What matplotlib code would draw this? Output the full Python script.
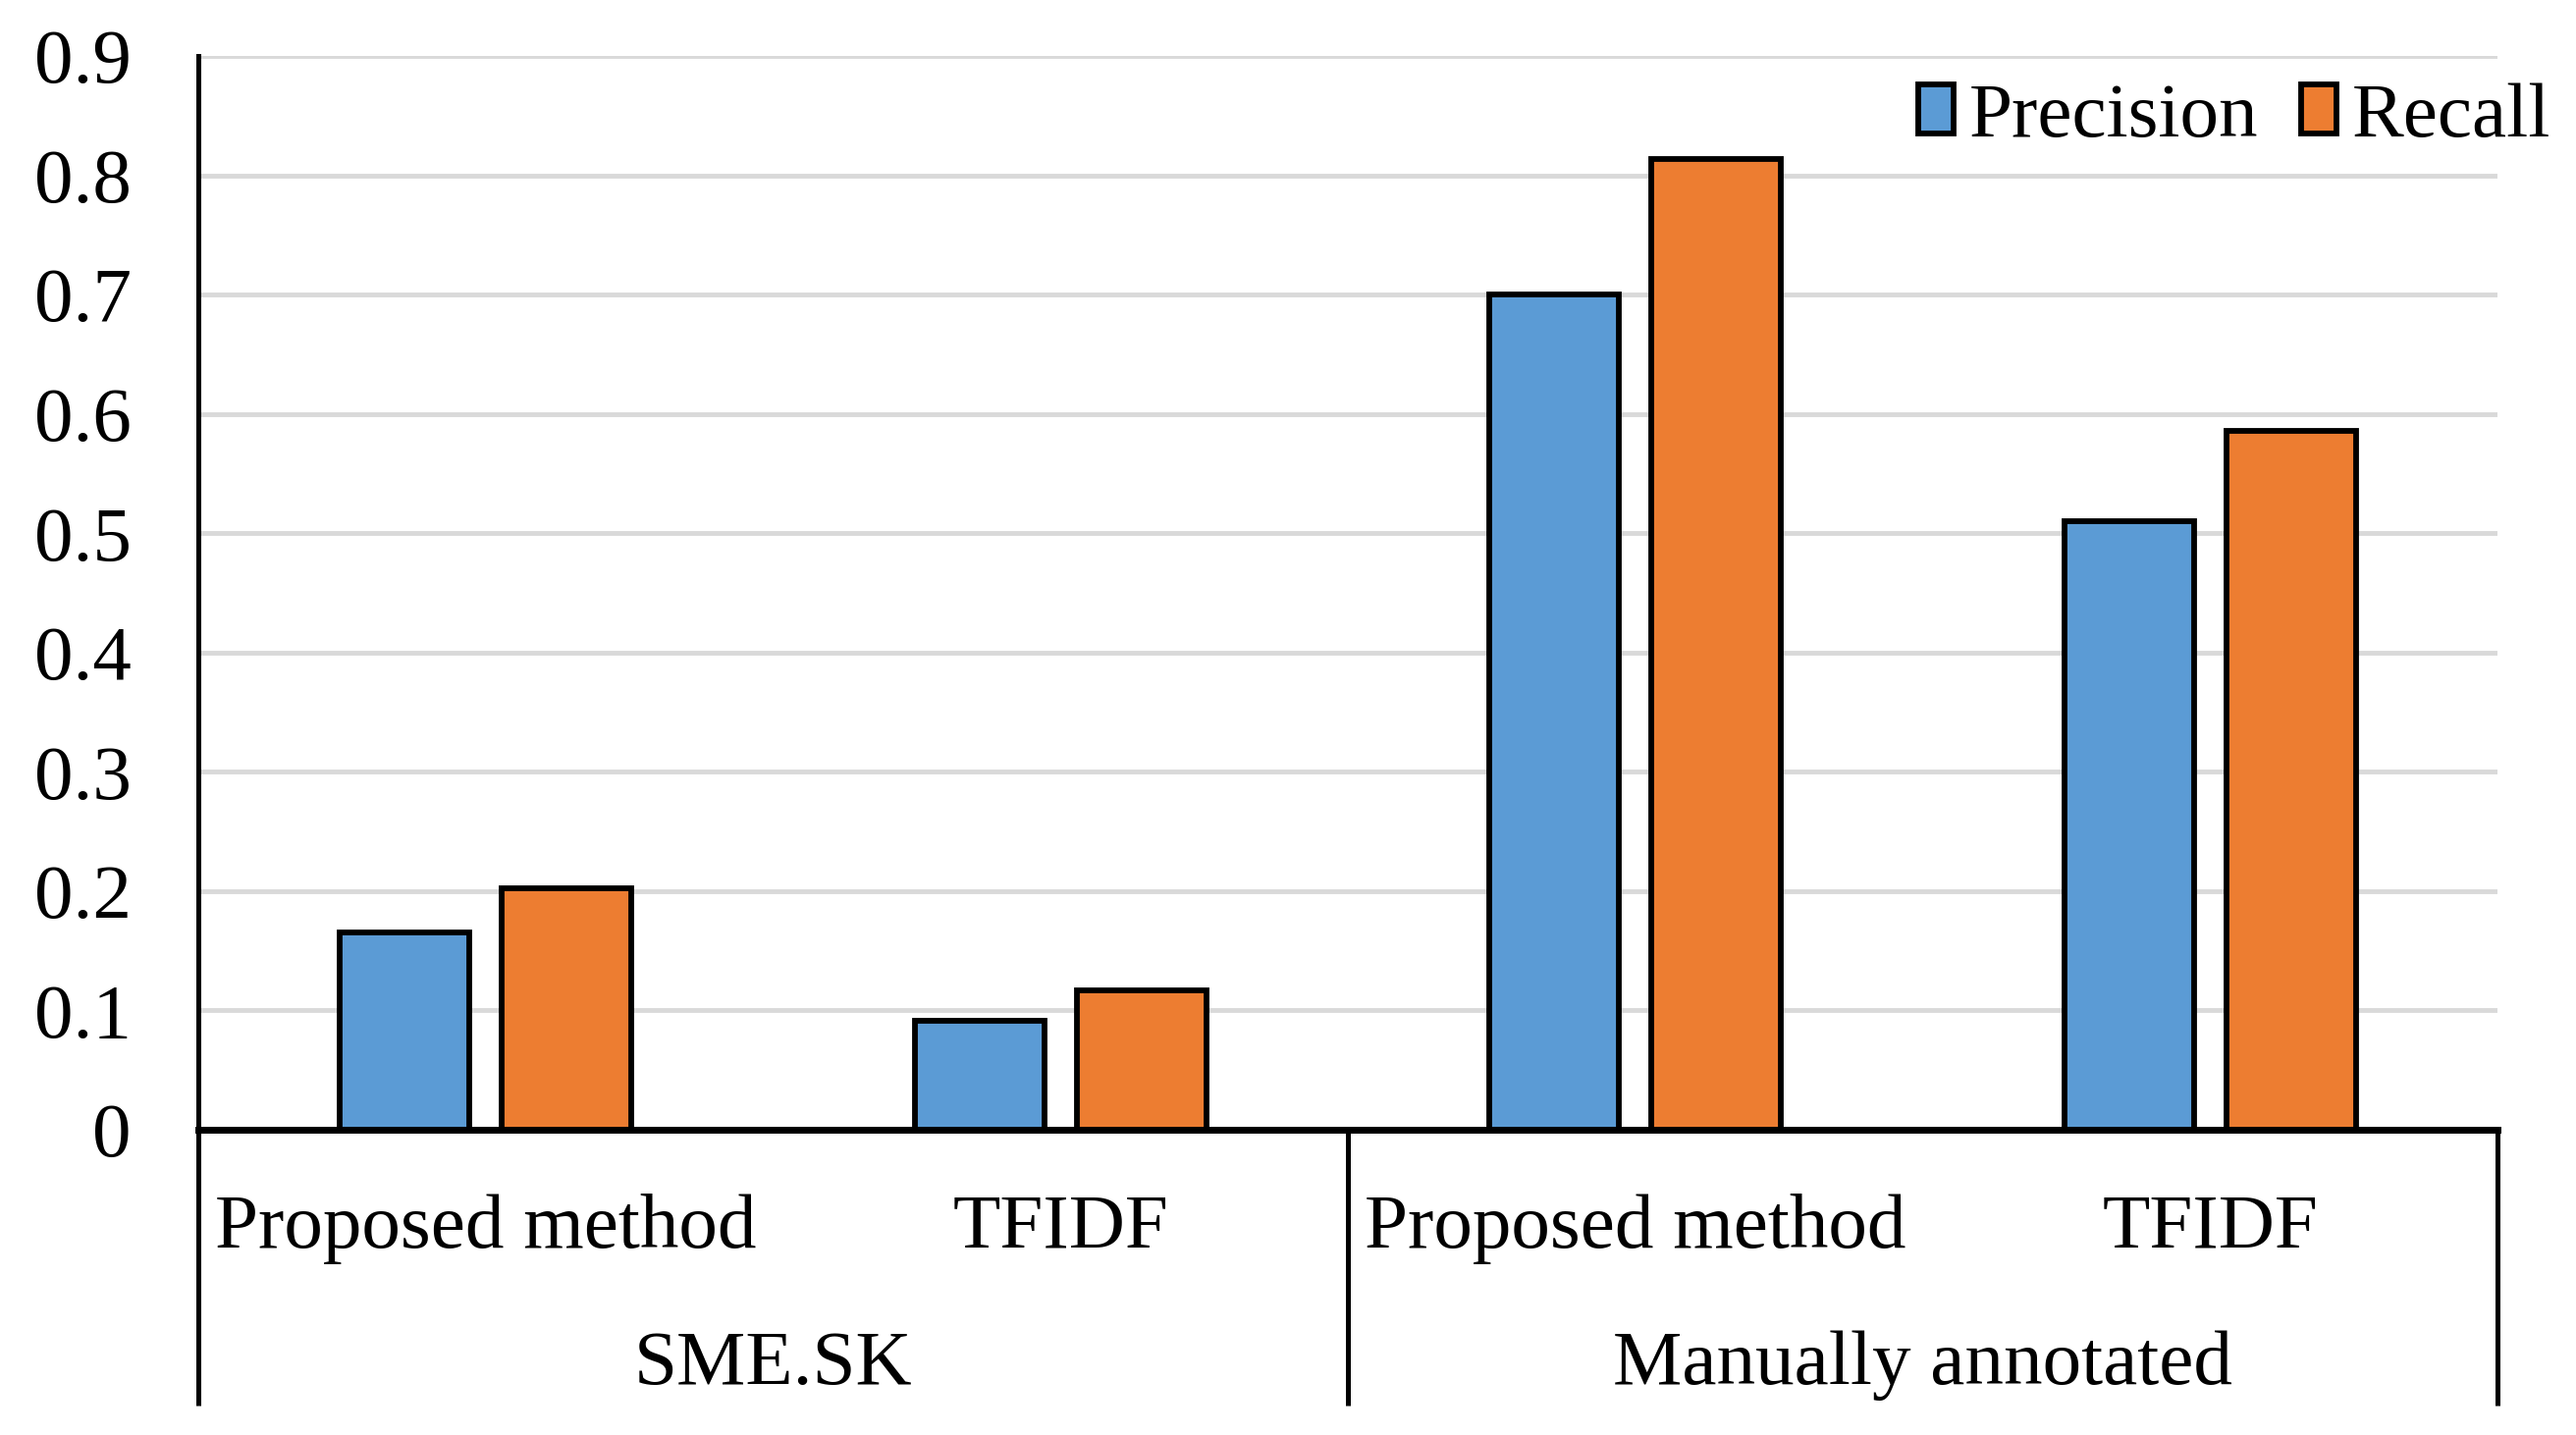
import matplotlib.pyplot as plt
import numpy as np

plt.rcParams["font.family"] = ["Liberation Serif", "DejaVu Serif"]

methods = ["Proposed method", "TFIDF", "Proposed method", "TFIDF"]
groups = ["SME.SK", "Manually annotated"]
precision = [0.165, 0.091, 0.700, 0.510]
recall = [0.202, 0.117, 0.814, 0.586]

blue = "#5B9BD5"
orange = "#ED7D31"
fs = 57

fig = plt.figure(figsize=(26.24, 14.62), dpi=100)
ax = fig.add_axes([0.077, 0.2127, 0.8925, 0.7483])

x = np.arange(len(methods))
w = 0.225
off = 0.141
ax.bar(x - off, precision, w, color=blue, edgecolor="black", linewidth=4.2,
       label="Precision", zorder=3)
ax.bar(x + off, recall, w, color=orange, edgecolor="black", linewidth=4.2,
       label="Recall", zorder=3)

ax.set_xlim(-0.5, 3.5)
ax.set_ylim(0, 0.9)
ax.set_yticks(np.arange(0, 0.91, 0.1))
ax.set_yticklabels(["0"] + ["%.1f" % v for v in np.arange(0.1, 0.91, 0.1)])
ax.yaxis.grid(True, color="#D9D9D9", linewidth=3.5, zorder=0)
ax.set_axisbelow(True)
ax.tick_params(axis="y", length=0, pad=49, labelsize=fs)
ax.set_xticks([])

for s in ["top", "right"]:
    ax.spines[s].set_visible(False)
ax.spines["left"].set_linewidth(3.6)
ax.spines["bottom"].set_linewidth(5)
ax.spines["bottom"].set_zorder(4)

# category / group separators below the axis
tr = ax.get_xaxis_transform()
for xs in [-0.5, 1.5, 3.5]:
    ax.plot([xs, xs], [0, -0.257], transform=tr, color="black",
            linewidth=3.6, clip_on=False, solid_capstyle="butt")

for i, m in enumerate(methods):
    ax.text(i, -0.092, m, transform=tr, ha="center", va="center", fontsize=fs)
for j, g in enumerate(groups):
    ax.text(2 * j + 0.5, -0.22, g, transform=tr, ha="center", va="center",
            fontsize=fs)

leg = ax.legend(loc="center right", bbox_to_anchor=(0.99, 0.918),
                bbox_transform=fig.transFigure, ncol=2, frameon=False,
                fontsize=fs, borderaxespad=0, borderpad=0,
                handlelength=0.45, handleheight=0.6, handletextpad=0.2,
                columnspacing=0.55)

fig.savefig("out.png", dpi=100)
